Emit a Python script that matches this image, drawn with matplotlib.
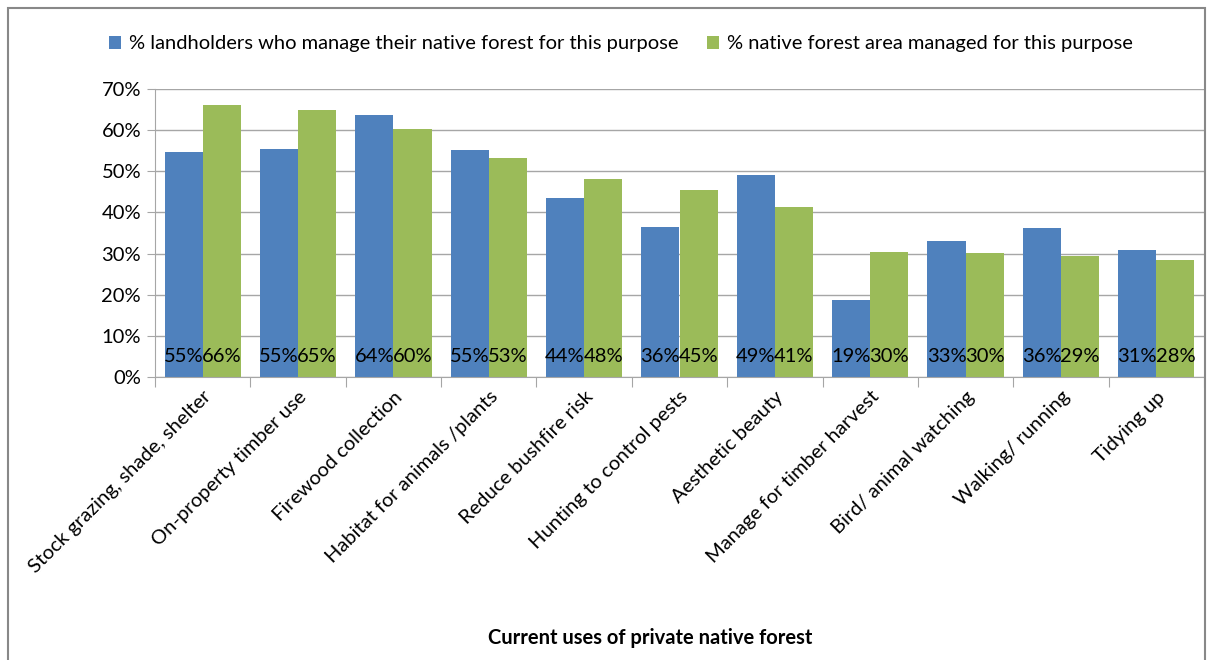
import matplotlib
matplotlib.use("Agg")
import matplotlib.pyplot as plt
import numpy as np
from matplotlib.patches import Rectangle

categories = ["Stock grazing, shade, shelter", "On-property timber use", "Firewood collection",
              "Habitat for animals /plants", "Reduce bushfire risk", "Hunting to control pests",
              "Aesthetic beauty", "Manage for timber harvest", "Bird/ animal watching",
              "Walking/ running", "Tidying up"]
landholders = [54.7, 55.4, 63.6, 55.2, 43.6, 36.4, 49.1, 18.6, 33.1, 36.1, 30.9]
forest_area = [66.2, 65.0, 60.2, 53.2, 48.2, 45.4, 41.4, 30.3, 30.1, 29.3, 28.4]
series_names = ["% landholders who manage their native forest for this purpose",
                "% native forest area managed for this purpose"]
yticks = [0, 10, 20, 30, 40, 50, 60, 70]

BLUE = "#4F81BD"
GREEN = "#9BBB59"
plt.rcParams['font.family'] = ['Lato', 'DejaVu Sans']
FS = 14.5

fig = plt.figure(figsize=(12.22, 6.6), dpi=100)
ax = fig.add_axes([155/1222, 1-377/660, (1204-155)/1222, (377-89)/660])

x = np.arange(len(categories))
w = 0.4
b1 = ax.bar(x - w/2, landholders, w, color=BLUE, label=series_names[0])
b2 = ax.bar(x + w/2, forest_area, w, color=GREEN, label=series_names[1])

for bars, vals in ((b1, landholders), (b2, forest_area)):
    for r, v in zip(bars, vals):
        ax.text(r.get_x() + r.get_width()/2, 5, f"{v:.0f}%", ha="center", va="center",
                fontsize=FS, color="black")

ax.set_ylim(0, 70)
ax.set_xlim(-0.5, len(categories) - 0.5)
ax.set_yticks(yticks)
ax.set_yticklabels([f"{t}%" for t in yticks], fontsize=FS)
ax.yaxis.grid(True, color="#A6A6A6", linewidth=1)
ax.set_axisbelow(True)
for s in ["top", "right"]:
    ax.spines[s].set_visible(False)
ax.spines["left"].set_color("#A6A6A6")
ax.spines["bottom"].set_color("#A6A6A6")
ax.tick_params(axis="y", direction="out", length=6, color="#A6A6A6", pad=4)

ax.set_xticks(np.arange(len(categories) + 1) - 0.5, minor=False)
ax.set_xticklabels([])
ax.tick_params(axis="x", which="major", direction="out", length=7, color="#A6A6A6")
ax.set_xticks(x, minor=True)
ax.set_xticklabels(categories, minor=True, rotation=45, ha="right", rotation_mode="anchor",
                   fontsize=FS)
ax.tick_params(axis="x", which="minor", length=0, pad=8)

ax.set_xlabel("Current uses of private native forest", fontsize=FS, fontweight="bold")
ax.xaxis.set_label_coords(0.472, -0.87)

fig.legend(handles=[b1, b2], loc="center", bbox_to_anchor=(621/1222, 1-44/660), ncol=2,
           frameon=False, fontsize=FS, handlelength=0.6, handleheight=0.6, handletextpad=0.4,
           columnspacing=1.4)

fig.patches.append(Rectangle((8/1222, -0.01), (1205-8)/1222, 1-8/660 + 0.01,
                             transform=fig.transFigure, fill=False, edgecolor="#888888",
                             linewidth=1.5))

fig.savefig("out.png", dpi=100)
